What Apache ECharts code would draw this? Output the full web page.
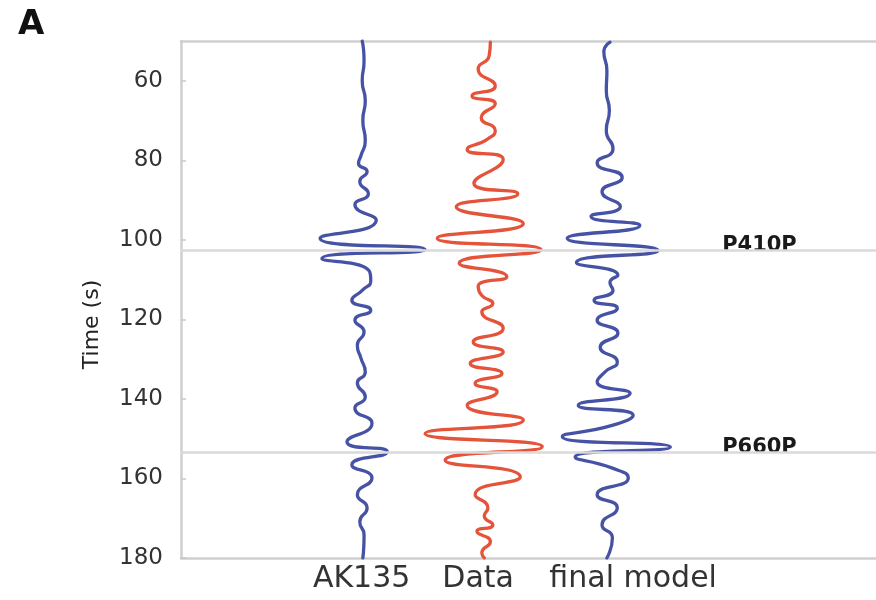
<!DOCTYPE html>
<html>
<head>
<meta charset="utf-8">
<script src="https://cdn.jsdelivr.net/npm/echarts@6/dist/echarts.min.js"></script>
<style>
  html, body { margin: 0; padding: 0; background: #fff; }
  #chart { width: 876px; height: 600px; }
</style>
</head>
<body>
<div id="chart"></div>
<script>
// Synthetic waveforms: time (s) and normalized amplitude for each trace
const ak135Time = [50, 55, 60, 65, 70, 75, 78.8, 80.8, 82.8, 85.3, 88.4, 91.1, 95.1, 99.6, 102.4, 104.7, 107.7, 110.2, 112.7, 115.2, 117.7, 120.2, 123.2, 126.5, 129.8, 133.3, 136.0, 139.5, 142.3, 146.1, 150.8, 153.3, 156.6, 159.9, 164.1, 167.4, 170.9, 174.2, 180];
const ak135Amp  = [-0.03, 0, -0.03, 0.02, -0.02, 0.02, -0.05, -0.09, 0.05, -0.07, 0.07, -0.15, 0.20, -0.72, 1.0, -0.69, 0.08, 0.11, -0.03, -0.20, 0.11, -0.15, 0, -0.11, -0.05, 0.02, -0.11, 0.02, -0.15, 0.13, -0.28, 0.38, -0.20, 0.13, -0.11, 0.05, -0.07, 0, -0.02];

const dataTime = [50.3, 53.7, 57.0, 61.3, 63.8, 65.8, 69.3, 72.5, 74.6, 77.3, 79.8, 85.8, 88.4, 91.7, 95.9, 99.6, 102.5, 105.9, 109.3, 111.7, 114.0, 116.0, 118.1, 122.2, 125.7, 128.2, 131.1, 133.6, 136.1, 138.2, 141.6, 145.3, 148.7, 152.0, 155.4, 159.6, 164.1, 167.4, 169.4, 171.7, 173.3, 175.9, 178.7, 180];
const dataAmp  = [0.07, 0.05, -0.13, 0.15, -0.23, 0.15, -0.08, 0.15, 0.03, -0.31, 0.28, -0.20, 0.52, -0.49, 0.61, -0.80, 0.90, -0.44, 0.34, -0.13, -0.07, 0.11, -0.07, 0.28, -0.21, 0.28, -0.26, 0.26, -0.18, 0.18, -0.31, 0.61, -1.0, 0.92, -0.67, 0.56, -0.18, 0.03, -0.03, 0.11, -0.15, 0.07, -0.07, -0.03];

const finalTime = [50.3, 52.7, 57.5, 62.5, 67.5, 72.5, 77.1, 80.6, 84.3, 87.9, 91.6, 94.1, 96.4, 99.6, 102.7, 105.7, 108.9, 110.7, 112.7, 115.2, 117.2, 120.2, 123.4, 127.0, 130.7, 133.2, 135.7, 138.6, 141.6, 144.1, 146.6, 149.5, 152.1, 154.6, 157.4, 159.9, 164.1, 167.4, 171.7, 174.9, 180];
const finalAmp  = [0.03, -0.07, -0.02, -0.03, 0.02, -0.03, 0.08, -0.18, 0.23, -0.10, 0.20, -0.28, 0.52, -0.67, 0.82, -0.52, 0.16, 0.03, 0.08, -0.23, 0.15, -0.18, 0.16, -0.13, 0.15, -0.05, -0.18, 0.36, -0.49, 0.41, 0.08, -0.75, 1.02, -0.54, 0.07, 0.33, -0.18, 0.15, -0.10, 0.07, -0.02];

// Trace names and where their names sit along the horizontal axis
const traceNames = ['AK135', 'Data', 'final model'];
const traceLabelAt = [2.96, 4.87, 7.41];

// Reflected phases and their arrival times (s)
const phaseNames = ['P410P', 'P660P'];
const phaseTimes = [102.5, 153.3];

// Time axis tick labels
const timeTicks = [60, 80, 100, 120, 140, 160, 180];

const FONT = 'DejaVu Sans';
const BLUE = '#4653a5';
const RED = '#e4533a';

function trace(times, amps, offset) {
  return times.map((t, i) => [offset + amps[i], t]);
}

const chart = echarts.init(document.getElementById('chart'), null, { renderer: 'canvas' });

const lineStyleBase = { width: 3.3, cap: 'round', join: 'round' };

chart.setOption({
  animation: false,
  backgroundColor: '#fff',
  title: {
    text: 'A',
    left: 13,
    top: 3,
    textStyle: { fontFamily: FONT, fontWeight: 'bold', fontSize: 34, color: '#111' }
  },
  grid: { left: 181, right: 0, top: 41, bottom: 42 },
  xAxis: [{
    type: 'value',
    min: 0,
    max: 11.39,
    position: 'bottom',
    splitLine: { show: false },
    axisTick: { show: false },
    axisLine: { show: true, lineStyle: { color: '#cfcfcf', width: 2.5 } },
    axisLabel: {
      customValues: traceLabelAt,
      margin: 6,
      fontFamily: FONT,
      fontSize: 30,
      color: '#333',
      formatter: function (v) {
        let best = 0;
        traceLabelAt.forEach((p, i) => { if (Math.abs(p - v) < Math.abs(traceLabelAt[best] - v)) best = i; });
        return traceNames[best];
      }
    }
  }, {
    type: 'value',
    min: 0,
    max: 11.39,
    position: 'top',
    splitLine: { show: false },
    axisTick: { show: false },
    axisLabel: { show: false },
    axisLine: { show: true, lineStyle: { color: '#cfcfcf', width: 2.5 } }
  }],
  yAxis: {
    type: 'value',
    inverse: true,
    min: 50,
    max: 180,
    name: 'Time (s)',
    nameLocation: 'middle',
    nameGap: 78,
    nameRotate: 90,
    nameTextStyle: { fontFamily: FONT, fontSize: 22, color: '#222', padding: [0, 50, 0, 0] },
    splitLine: { show: false },
    axisLine: { show: true, lineStyle: { color: '#cfcfcf', width: 2.5 } },
    axisTick: { show: true, inside: true, length: 5, customValues: timeTicks, lineStyle: { color: '#c8c8c8', width: 1.5 } },
    axisLabel: { customValues: timeTicks, margin: 18, fontFamily: FONT, fontSize: 23, color: '#333' }
  },
  series: [
    {
      type: 'line',
      name: 'phases',
      data: [],
      silent: true,
      markLine: {
        silent: true,
        symbol: 'none',
        label: { show: false },
        lineStyle: { color: '#dadada', width: 2.5, type: 'solid' },
        data: phaseTimes.map(t => ({ yAxis: t }))
      },
      z: 1
    },
    {
      type: 'line', name: traceNames[0], smooth: 0.6, showSymbol: false,
      data: trace(ak135Time, ak135Amp, 3),
      lineStyle: Object.assign({ color: BLUE }, lineStyleBase), itemStyle: { color: BLUE }, z: 3
    },
    {
      type: 'line', name: traceNames[1], smooth: 0.6, showSymbol: false,
      data: trace(dataTime, dataAmp, 5),
      lineStyle: Object.assign({ color: RED }, lineStyleBase), itemStyle: { color: RED }, z: 3
    },
    {
      type: 'line', name: traceNames[2], smooth: 0.6, showSymbol: false,
      data: trace(finalTime, finalAmp, 7),
      lineStyle: Object.assign({ color: BLUE }, lineStyleBase), itemStyle: { color: BLUE }, z: 3
    },
    {
      type: 'scatter',
      symbolSize: 1,
      itemStyle: { opacity: 0 },
      silent: true,
      data: phaseTimes.map((t, i) => ({ value: [9.48, t], name: phaseNames[i] })),
      label: {
        show: true,
        position: 'inside',
        offset: [0, -4],
        formatter: p => p.name,
        fontFamily: FONT,
        fontWeight: 'bold',
        fontSize: 21,
        color: '#1a1a1a',
        opacity: 1,
        backgroundColor: '#fff',
        padding: [0, 6, 0, 6]
      },
      z: 4
    }
  ]
});
</script>
</body>
</html>
